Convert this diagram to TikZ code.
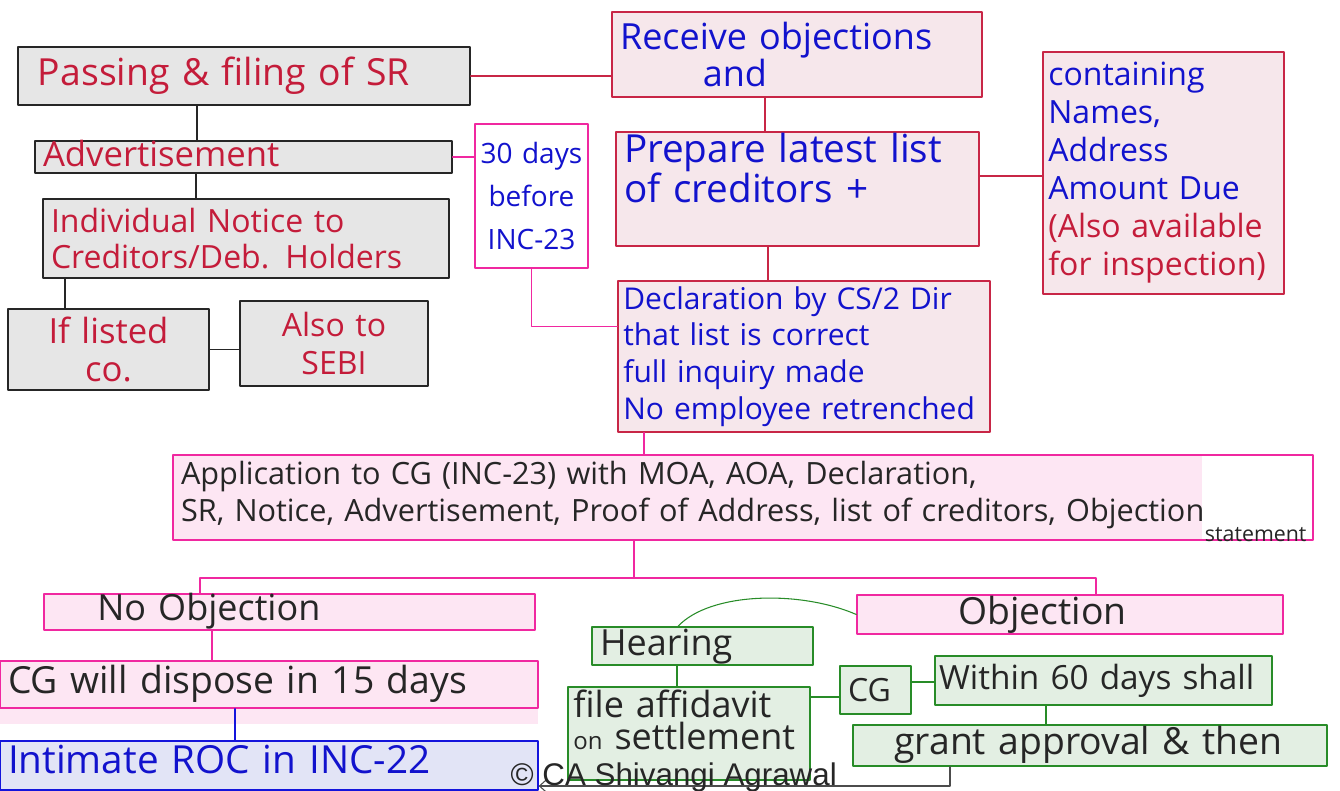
\documentclass[tikz,border=0pt]{standalone}
\usepackage{fontspec}
\setmainfont{Open Sans}
\newfontfamily\wmfont{Liberation Sans}
\usetikzlibrary{arrows.meta}
\definecolor{redtxt}{RGB}{196,28,58}
\definecolor{bluetxt}{RGB}{18,18,205}
\definecolor{inktxt}{RGB}{38,38,38}
\definecolor{greyfill}{RGB}{230,230,230}
\definecolor{rosefill}{RGB}{246,231,235}
\definecolor{roseline}{RGB}{200,38,70}
\definecolor{magfill}{RGB}{253,230,243}
\definecolor{magline}{RGB}{240,40,160}
\definecolor{lavfill}{RGB}{226,228,246}
\definecolor{blueline}{RGB}{20,20,220}
\definecolor{greenfill}{RGB}{227,239,227}
\definecolor{greenline}{RGB}{40,140,40}
\newcommand\hw[2]{\fontsize{#1}{#2}\selectfont}

\begin{document}
\begin{tikzpicture}[x=0.75pt,y=-0.75pt,line cap=round,line join=round,
  >={Straight Barb[length=5pt,width=9pt]},
  every node/.style={inner xsep=6pt,inner ysep=2pt,align=left,line width=1pt},
  greybox/.style={draw=black!85,fill=greyfill,text=redtxt},
  rosebox/.style={draw=roseline,fill=rosefill,text=bluetxt},
  magbox/.style={draw=magline,fill=magfill,text=inktxt},
  lavbox/.style={draw=blueline,fill=lavfill,text=bluetxt},
  greenbox/.style={draw=greenline,fill=greenfill,text=inktxt},
  inklink/.style={draw=black!85,line width=0.8pt},
  redlink/.style={draw=roseline,line width=0.8pt},
  maglink/.style={draw=magline,line width=0.9pt},
  bluelink/.style={draw=blueline,line width=0.8pt},
  greenlink/.style={draw=greenline,line width=0.8pt}]
  \useasboundingbox (0,0) rectangle (1340,790);
  \node[greybox,text width=327pt,minimum height=43.5pt,font=\hw{28}{30}] (sr) at (244,76) {\hspace*{9pt}Passing \& filing of SR};
  \node[greybox,text width=300.75pt,text height=17pt,text depth=3pt,font=\hw{26}{28}] (adv) at (243.5,157) {Advertisement};
  \node[greybox,text width=292.5pt,minimum height=59.25pt,font=\hw{24}{27}] (notice) at (246,238.5) {Individual Notice to\\Creditors/Deb. Holders};
  \node[greybox,text width=138.75pt,minimum height=60.75pt,align=center,font=\hw{26}{28}] (listed) at (108.5,349.5) {If listed\\co.};
  \node[greybox,text width=129pt,minimum height=63.75pt,align=center,font=\hw{24}{28}] (sebi) at (334,343.5) {Also to\\SEBI};
  \node[draw=magline,fill=white,text=bluetxt,inner xsep=2pt,text width=80.75pt,minimum height=108pt,align=center,font=\hw{21}{32}] (days) at (531.5,196) {30 days\\before\\INC-23};
  \node[rosebox,text width=265.5pt,minimum height=63.75pt,font=\hw{27}{28}] (recv) at (797,54.5) {Receive objections\\\hspace*{2.3em}and};
  \node[rosebox,text width=260.25pt,text height=21pt,text depth=60.5pt,font=\hw{29}{30}] (prep) at (797.5,189) {Prepare latest list\\of creditors +};
  \node[rosebox,inner xsep=4pt,text width=172.75pt,minimum height=181.5pt,font=\hw{24}{28.5}] (cont) at (1163.5,173) {containing\\Names,\\Address\\Amount Due\\\textcolor{redtxt}{(Also available}\\\textcolor{redtxt}{for inspection)}};
  \node[rosebox,inner xsep=4pt,text width=271pt,minimum height=113.25pt,font=\hw{22.5}{27.5}] (decl) at (804,356.5) {Declaration by CS/2 Dir\\that list is correct\\full inquiry made\\No employee retrenched};
  \fill[magfill] (173,455) rectangle (1202,540);
  \node[draw=magline,text=inktxt,text width=843pt,text height=20pt,text depth=39.75pt,font=\hw{23}{28}] (appl) at (743,497.5) {Application to CG (INC-23) with MOA, AOA, Declaration,\\SR, Notice, Advertisement, Proof of Address, list of creditors, Objection\\[-13pt]\hspace*{768pt}\makebox[0pt][l]{\hw{16}{16}statement}};
  \coordinate (split) at (634,578);
  \node[magbox,text width=356.25pt,text height=18pt,text depth=5pt,font=\hw{27}{28}] (noobj) at (289.5,612) {\hspace*{34pt}No Objection};
  \fill[magfill] (0,708) rectangle (538,724);
  \node[magbox,text width=391.5pt,text height=22pt,text depth=9.25pt,font=\hw{28}{30}] (dispose) at (269,684.5) {CG will dispose in 15 days};
  \node[lavbox,text width=391.5pt,text height=22pt,text depth=10.75pt,font=\hw{29}{30}] (roc) at (269,765.5) {Intimate ROC in INC-22};
  \node[magbox,text width=307.5pt,text height=20pt,text depth=5.25pt,font=\hw{28}{30}] (obj) at (1070,614.5) {\hspace*{70pt}Objection};
  \node[greenbox,text width=153.75pt,text height=19pt,text depth=5.5pt,font=\hw{27}{28}] (hear) at (702.5,646) {Hearing};
  \node[greenbox,inner xsep=4pt,text width=173.5pt,text height=21pt,text depth=44.75pt,font=\hw{27}{24}] (affi) at (689,733.5) {file affidavit\\{\hw{18}{18}on} settlement};
  \node[greenbox,text width=41.25pt,minimum height=36pt,font=\hw{24}{26}] (cg) at (875.5,690) {CG};
  \node[greenbox,inner xsep=3pt,text width=246.75pt,minimum height=36.75pt,font=\hw{25}{26}] (within) at (1103.5,680.5) {Within 60 days shall};
  \node[greenbox,text width=343.5pt,text height=20pt,text depth=6.75pt,font=\hw{28}{30}] (grant) at (1090,745.5) {\hspace*{25pt}grant approval \& then};
  \draw[redlink] (sr.east) -- (sr.east -| recv.west);
  \draw[inklink] (sr.south -| 197,0) -- (adv.north -| 197,0);
  \draw[inklink] (adv.south -| 196,0) -- (notice.north -| 196,0);
  \draw[inklink] (notice.south -| 65,0) -- (listed.north -| 65,0);
  \draw[inklink] (listed.east) -- (listed.east -| sebi.west);
  \draw[maglink] (adv.east) -- (adv.east -| days.west);
  \draw[maglink] (days.south) |- ([yshift=22.5pt]decl.west);
  \draw[redlink] (recv.south -| 765,0) -- (prep.north -| 765,0);
  \draw[redlink] (prep.east |- 0,176) -- (cont.west |- 0,176);
  \draw[redlink] (prep.south -| 768,0) -- (decl.north -| 768,0);
  \draw[maglink] (decl.south -| 644,0) -- (appl.north -| 644,0);
  \draw[maglink] (appl.south -| split) -- (split);
  \draw[maglink] (noobj.north -| 200,0) |- (split) -| (obj.north -| 1096,0);
  \draw[maglink] (noobj.south -| 212,0) -- (dispose.north -| 212,0);
  \draw[bluelink] (dispose.south -| 235,0) -- (roc.north -| 235,0);
  \draw[greenlink] (obj.west) .. controls (800,590) and (710,592) .. (hear.north -| 678,0);
  \draw[greenlink] (hear.south -| 677,0) -- (affi.north -| 677,0);
  \draw[greenlink] (affi.east |- 0,697) -- (cg.west |- 0,697);
  \draw[greenlink] (cg.east |- 0,682) -- (within.west |- 0,682);
  \draw[greenlink] (within.south -| 1046,0) -- (grant.north -| 1046,0);
  \draw[inklink,draw=black!70,->] (grant.south -| 950,0) |- (roc.east |- 0,786);
  \node[inner sep=0pt,anchor=west,text=black!85,font=\wmfont\hw{23.5}{25}] (mark) at (510,777) {© CA Shivangi Agrawal};
\end{tikzpicture}
\end{document}
